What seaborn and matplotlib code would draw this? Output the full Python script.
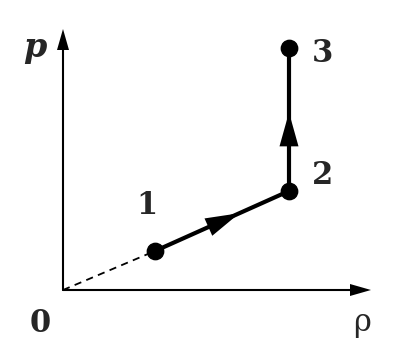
import matplotlib
matplotlib.use("Agg")
import matplotlib.pyplot as plt
import seaborn as sns
import pandas as pd
import numpy as np

# State points (rho, p) in diagram units (origin at 0,0)
labels = ["1", "2", "3"]
rho = [92, 226, 226]
p = [39, 99, 242]

sns.set_theme(style="white")
plt.rcParams['font.family'] = ['DejaVu Serif', 'DejaVu Sans']

fig = plt.figure(figsize=(3.95, 3.51), dpi=100)
ax = fig.add_axes([0, 0, 1, 1])
ax.set_xlim(-63, 332)
ax.set_ylim(-61, 290)
ax.axis("off")

df = pd.DataFrame({"rho": rho, "p": p, "label": labels})


def head(tip, direction, length, half_w):
    d = np.asarray(direction, float)
    d = d / np.hypot(*d)
    n = np.array([-d[1], d[0]])
    t = np.asarray(tip, float)
    b = t - d * length
    pts = np.array([t, b + n * half_w, b - n * half_w])
    ax.fill(pts[:, 0], pts[:, 1], color="black", lw=0, zorder=6)


# axes with arrows
ax.plot([0, 292], [0, 0], color="black", lw=1.5)
ax.plot([0, 0], [0, 245], color="black", lw=1.5)
head((308, 0), (1, 0), 21, 6)
head((0, 261), (0, 1), 21, 6)

# dashed extension from origin to state 1
ax.plot([0, rho[0]], [0, p[0]], ls=(0, (4, 3)), lw=1.3, color="black")

# process path
sns.lineplot(data=df, x="rho", y="p", sort=False, ax=ax, color="black",
             lw=3.0, estimator=None)
sns.scatterplot(data=df, x="rho", y="p", ax=ax, color="black", s=140,
                edgecolor="black", zorder=5)

# arrowheads along the path segments
for i, frac in [(0, 0.63), (1, 0.55)]:
    x0, y0 = rho[i], p[i]
    x1, y1 = rho[i + 1], p[i + 1]
    tip = (x0 + (x1 - x0) * frac, y0 + (y1 - y0) * frac)
    head(tip, (x1 - x0, y1 - y0), 34, 9.5)

ax.set_xlabel("")
ax.set_ylabel("")

# point labels
offsets = [(-8, 46), (34, 16), (33, -5)]
for lab, x, y, (dx, dy) in zip(labels, rho, p, offsets):
    ax.text(x + dx, y + dy, lab, fontsize=22, fontweight="bold",
            ha="center", va="center")

ax.text(-23, 0 - 33, "0", fontsize=22, fontweight="bold", ha="center", va="center")
ax.text(299, -32, "ρ", fontsize=22, ha="center", va="center",
        family=["DejaVu Serif"])
ax.text(-28, 242, "p", fontsize=24, fontweight="bold", fontstyle="italic",
        ha="center", va="center")

fig.savefig("out.png", dpi=100)
